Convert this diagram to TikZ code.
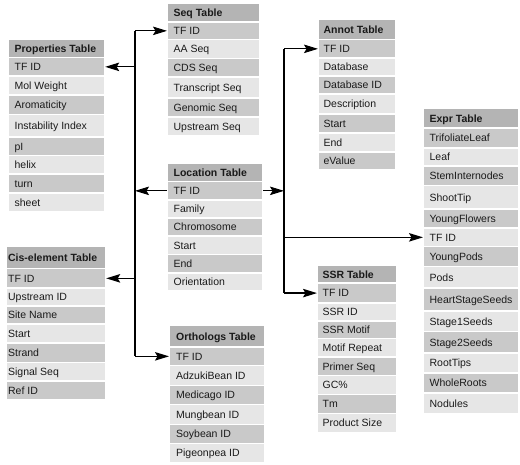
\documentclass[tikz,border=0pt]{standalone}
\usepackage{fontspec}
\setmainfont{Liberation Sans}
\usetikzlibrary{arrows.meta}
\definecolor{hdrc}{HTML}{B4B4B4}
\definecolor{rowAc}{HTML}{C9C9C9}
\definecolor{rowBc}{HTML}{E6E6E6}
\definecolor{txtc}{HTML}{1A1A1A}
\tikzset{
  cell/.style={draw=white, line width=1.2pt, inner ysep=0pt, text=txtc,
    font=\fontsize{10.5pt}{12pt}\selectfont, text height=9.5pt, text depth=2pt},
  bus/.style={line width=1.2pt, draw=black},
  arr/.style={bus, -{Stealth[length=14pt,width=8.5pt,inset=2.5pt]}}
}
% name, x, ytop, width, inset, {text/height,...}
\newcommand\dbtable[6]{%
  \pgfmathsetmacro\tblw{#4-2*#5}%
  \xdef\cury{#3}%
  \foreach \t/\hh [count=\i from 0] in {#6}{%
    \ifnum\i=0 \def\cc{hdrc}\def\ff{\bfseries}\else\ifodd\i \def\cc{rowAc}\def\ff{}\else\def\cc{rowBc}\def\ff{}\fi\fi
    \node[cell, fill=\cc, minimum width=#4pt, minimum height=\hh pt, inner xsep=#5pt, anchor=north west]
      (#1-\i) at (#2,\cury) {\ff\makebox[\tblw pt][l]{\t}};
    \pgfmathsetmacro\nexty{\cury+\hh}\xdef\cury{\nexty}%
  }%
}
\begin{document}
\begin{tikzpicture}[x=1pt,y=-1pt]
\useasboundingbox (0,0) rectangle (520,465);

\dbtable{prop}{8}{39}{96}{6}{Properties Table/18, TF ID/18.5, Mol Weight/19, Aromaticity/19.5, Instability Index/22.5, pI/18.5, helix/18.5, turn/19, sheet/18.5}
\dbtable{seq}{167}{3}{92}{6}{Seq Table/18.5, TF ID/17.5, AA Seq/19, CDS Seq/18.5, Transcript Seq/21, Genomic Seq/19, Upstream Seq/18.5}
\dbtable{annot}{318}{19}{77}{5}{Annot Table/20, TF ID/18.5, Database/18, Database ID/18, Description/20, Start/19, End/19, eValue/17.5}
\dbtable{loc}{167}{163}{95}{6}{Location Table/18, TF ID/18.5, Family/18, Chromosome/18, Start/18.5, End/18.5, Orientation/17.5}
\dbtable{expr}{423}{108}{95}{6}{Expr Table/19.5, TrifoliateLeaf/20, Leaf/18, StemInternodes/19.5, ShootTip/23.5, YoungFlowers/19, TF ID/18.5, YoungPods/20, Pods/21.5, HeartStageSeeds/23, Stage1Seeds/20.5, Stage2Seeds/21.5, RootTips/20, WholeRoots/20, Nodules/20.5}
\dbtable{cis}{6}{246}{99}{1.5}{Cis-element Table/22, TF ID/19.5, Upstream ID/18, Site Name/18, Start/19, Strand/19.5, Signal Seq/18.5, Ref ID/18.5}
\dbtable{orth}{169}{325}{95}{6.5}{Orthologs Table/21.5, TF ID/18.5, AdzukiBean ID/20, Medicago ID/19, Mungbean ID/20, Soybean ID/19, Pigeonpea ID/19}
\dbtable{ssr}{317}{265}{79}{5}{SSR Table/17.5, TF ID/20, SSR ID/18, SSR Motif/17.5, Motif Repeat/18.5, Primer Seq/18.5, GC\%/19, Tm/18.5, Product Size/19.5}

\coordinate (lbx) at (135,0);
\coordinate (rbx) at (284,0);

% left bus
\draw[bus] (seq-1.west -| lbx) -- (orth-1.west -| lbx);
\draw[arr] (seq-1.west -| lbx) -- (seq-1.west);
\draw[arr] (prop-1.east -| lbx) -- (prop-1.east);
\draw[arr] (loc-1.west) -- (loc-1.west -| lbx);
\draw[arr] (cis-1.east -| lbx) -- (cis-1.east);
\draw[arr] (orth-1.west -| lbx) -- (orth-1.west);

% right bus
\draw[bus] (annot-1.west -| rbx) -- (ssr-1.west -| rbx);
\draw[arr] (annot-1.west -| rbx) -- (annot-1.west);
\draw[arr] (loc-1.east) -- (loc-1.east -| rbx);
\draw[arr] (expr-6.west -| rbx) -- (expr-6.west);
\draw[arr] (ssr-1.west -| rbx) -- (ssr-1.west);
\end{tikzpicture}
\end{document}
